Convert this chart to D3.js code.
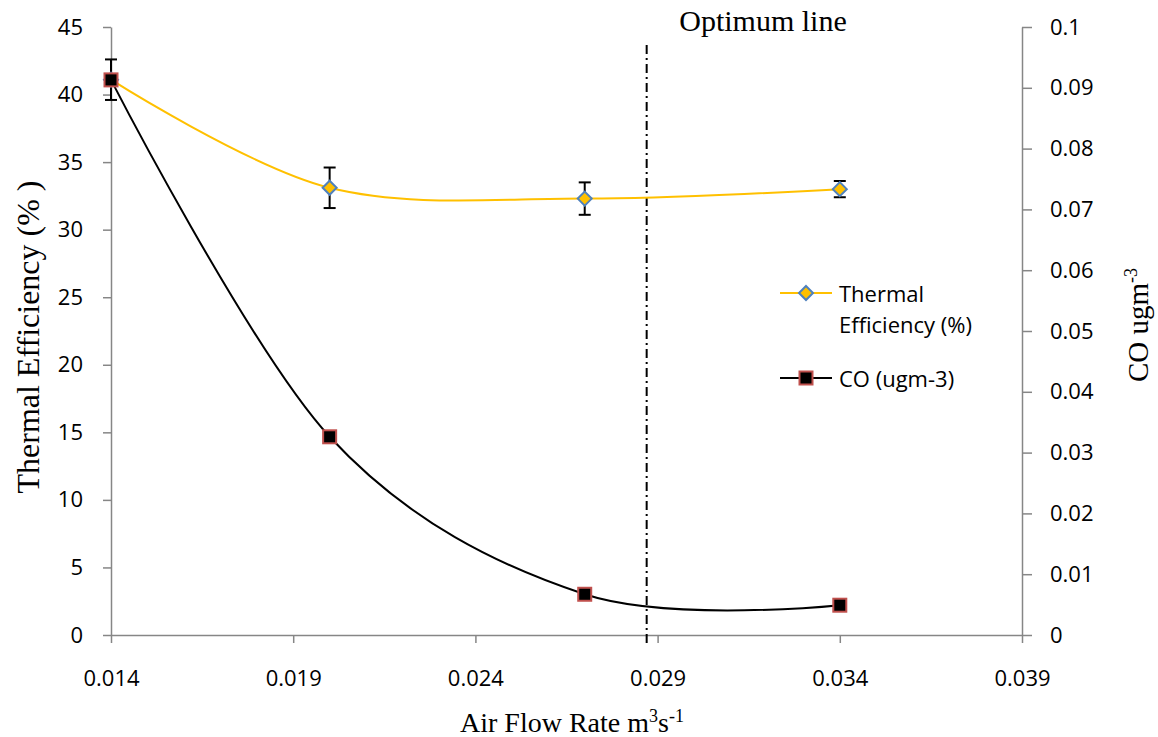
<!DOCTYPE html>
<meta charset="utf-8">
<style>
body { margin: 0; background: #fff; }
.axis path, .axis line { fill: none; stroke: #868686; stroke-width: 1.5px; }
.axis text { font: 22px "Open Sans", sans-serif; fill: #000; }
.title { font: 30px "Liberation Serif", "Times New Roman", serif; fill: #000; }
.legend text { font: 22px "Open Sans", sans-serif; fill: #000; }
</style>
<body>
<script src="https://d3js.org/d3.v7.min.js"></script>
<script>

var airFlow = [0.014, 0.020, 0.027, 0.034];
var efficiency = [41.1, 33.1, 32.3, 33.0];
var efficiencyErr = [1.5, 1.5, 1.2, 0.6];
var co = [0.0913, 0.0326, 0.0067, 0.0049];
var optimumX = 0.0287;

var xTicks = [0.014, 0.019, 0.024, 0.029, 0.034, 0.039];
var leftTicks = [0, 5, 10, 15, 20, 25, 30, 35, 40, 45];
var rightTicks = [0, 0.01, 0.02, 0.03, 0.04, 0.05, 0.06, 0.07, 0.08, 0.09, 0.1];

var margin = {top: 27, right: 136, bottom: 102, left: 111},
    width = 1158 - margin.left - margin.right,
    height = 737 - margin.top - margin.bottom;

var x = d3.scaleLinear().domain([0.014, 0.039]).range([0, width]);
var yL = d3.scaleLinear().domain([0, 45]).range([height, 0]);
var yR = d3.scaleLinear().domain([0, 0.1]).range([height, 0]);

var svg = d3.select("body").append("svg")
    .attr("width", 1158)
    .attr("height", 737)
  .append("g")
    .attr("transform", "translate(" + margin.left + "," + margin.top + ")");

svg.append("g")
    .attr("class", "axis")
    .attr("transform", "translate(0," + height + ")")
    .call(d3.axisBottom(x).tickValues(xTicks).tickFormat(d3.format(".3f")).tickSizeInner(8).tickSizeOuter(0).tickPadding(27));

svg.append("g")
    .attr("class", "axis")
    .call(d3.axisLeft(yL).tickValues(leftTicks).tickSizeInner(8).tickSizeOuter(0).tickPadding(20));

svg.append("g")
    .attr("class", "axis")
    .attr("transform", "translate(" + width + ",0)")
    .call(d3.axisRight(yR).tickValues(rightTicks).tickFormat(function(d) { return String(+d.toFixed(2)); })
      .tickSizeInner(10).tickSizeOuter(0).tickPadding(18));

// optimum line
svg.append("line")
    .attr("x1", x(optimumX)).attr("x2", x(optimumX))
    .attr("y1", 18).attr("y2", height + 10)
    .attr("stroke", "#000").attr("stroke-width", 2)
    .attr("stroke-dasharray", "9,4,2,4");

svg.append("text")
    .attr("class", "title")
    .attr("x", 652)
    .attr("y", 4)
    .attr("text-anchor", "middle")
    .text("Optimum line");

// axis titles
svg.append("text")
    .attr("class", "title")
    .style("font-size", "32px")
    .attr("transform", "translate(-72,310) rotate(-90)")
    .attr("text-anchor", "middle")
    .text("Thermal Efficiency (% )");

var xt = svg.append("text")
    .attr("class", "title")
    .style("font-size", "28px")
    .attr("x", 461)
    .attr("y", 705)
    .attr("text-anchor", "middle");
xt.append("tspan").text("Air Flow Rate m");
xt.append("tspan").attr("font-size", "18px").attr("dy", -10).text("3");
xt.append("tspan").attr("dy", 10).text("s");
xt.append("tspan").attr("font-size", "18px").attr("dy", -10).text("-1");

var rt = svg.append("text")
    .attr("class", "title")
    .style("font-size", "29px")
    .attr("transform", "translate(1037,298) rotate(-90)")
    .attr("text-anchor", "middle");
rt.append("tspan").text("CO ugm");
rt.append("tspan").attr("font-size", "18px").attr("dy", -11).text("-3");

var data = airFlow.map(function(d, i) {
  return {x: d, eff: efficiency[i], err: efficiencyErr[i], co: co[i]};
});

var curve = d3.curveCardinal.tension(0);

// thermal efficiency
svg.append("path")
    .datum(data)
    .attr("fill", "none")
    .attr("stroke", "#FFC000")
    .attr("stroke-width", 2)
    .attr("d", d3.line().curve(curve).x(function(d) { return x(d.x); }).y(function(d) { return yL(d.eff); }));

var eb = svg.append("g").attr("stroke", "#000").attr("stroke-width", 2);
data.forEach(function(d) {
  var cx = x(d.x), t = yL(d.eff + d.err), b = yL(d.eff - d.err);
  eb.append("line").attr("x1", cx).attr("x2", cx).attr("y1", t).attr("y2", b);
  eb.append("line").attr("x1", cx - 6).attr("x2", cx + 6).attr("y1", t).attr("y2", t);
  eb.append("line").attr("x1", cx - 6).attr("x2", cx + 6).attr("y1", b).attr("y2", b);
});

function diamond(g, cx, cy) {
  g.append("path")
      .attr("d", "M" + cx + "," + (cy - 7) + "L" + (cx + 7) + "," + cy + "L" + cx + "," + (cy + 7) + "L" + (cx - 7) + "," + cy + "Z")
      .attr("fill", "#FFC000").attr("stroke", "#4F81BD").attr("stroke-width", 2);
}
function square(g, cx, cy) {
  g.append("rect")
      .attr("x", cx - 6.5).attr("y", cy - 6.5).attr("width", 13).attr("height", 13)
      .attr("fill", "#000").attr("stroke", "#C0504D").attr("stroke-width", 2);
}

data.forEach(function(d) { diamond(svg, x(d.x), yL(d.eff)); });

// CO
svg.append("path")
    .datum(data)
    .attr("fill", "none")
    .attr("stroke", "#000")
    .attr("stroke-width", 2)
    .attr("d", d3.line().curve(curve).x(function(d) { return x(d.x); }).y(function(d) { return yR(d.co); }));

data.forEach(function(d) { square(svg, x(d.x), yR(d.co)); });

// legend
var lg = svg.append("g").attr("class", "legend").attr("transform", "translate(669,266)");
lg.append("line").attr("x1", 0).attr("x2", 52).attr("y1", 0).attr("y2", 0).attr("stroke", "#FFC000").attr("stroke-width", 2);
diamond(lg, 26, 0);
lg.append("text").attr("x", 59).attr("y", 9).text("Thermal");
lg.append("text").attr("x", 59).attr("y", 40).text("Efficiency (%)");
lg.append("line").attr("x1", 0).attr("x2", 52).attr("y1", 85).attr("y2", 85).attr("stroke", "#000").attr("stroke-width", 2);
square(lg, 26, 85);
lg.append("text").attr("x", 59).attr("y", 94).text("CO (ugm-3)");

</script>
